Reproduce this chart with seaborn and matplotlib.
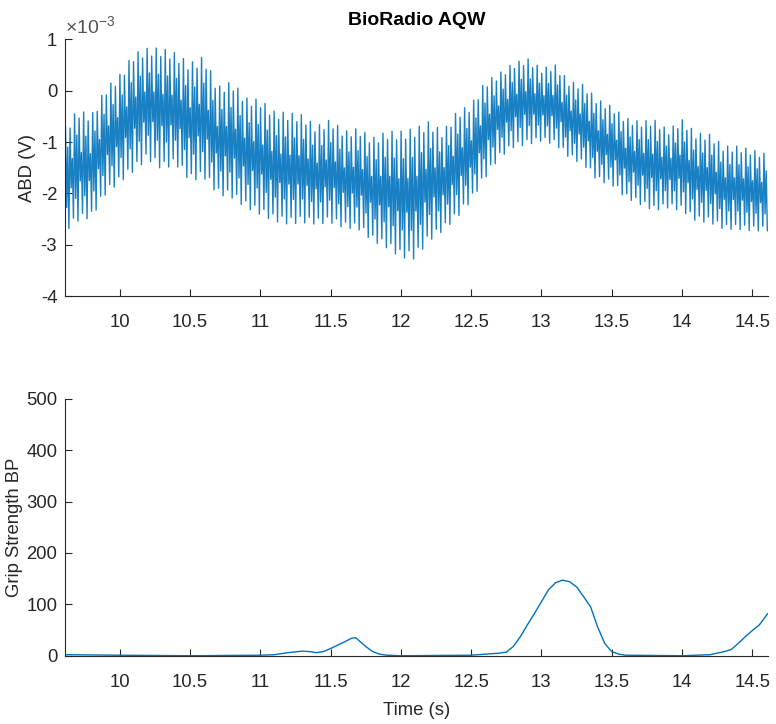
import numpy as np
import pandas as pd
import matplotlib
matplotlib.use("Agg")
import matplotlib.pyplot as plt
import seaborn as sns

# ABD signal envelope (units of 1e-3 V), every 0.1 s
env_time = [9.62, 9.7, 9.8, 9.9, 10.0, 10.1, 10.2, 10.3, 10.4, 10.5,
            10.6, 10.7, 10.8, 10.9, 11.0, 11.1, 11.2, 11.3, 11.4, 11.5,
            11.6, 11.7, 11.8, 11.9, 12.0, 12.1, 12.2, 12.3, 12.4, 12.5,
            12.6, 12.7, 12.8, 12.9, 13.0, 13.1, 13.2, 13.3, 13.4, 13.5,
            13.6, 13.7, 13.8, 13.9, 14.0, 14.1, 14.2, 14.3, 14.4, 14.5, 14.61]
abd_upper = [-0.69, -0.37, -0.47, 0.05, 0.31, 0.73, 0.83, 0.83, 0.73, 0.54,
             0.67, 0.08, 0.18, -0.14, -0.17, -0.40, -0.43, -0.47, -0.69, -0.56,
             -0.79, -0.73, -0.92, -0.79, -0.79, -0.73, -0.60, -0.79, -0.40, -0.27,
             0.18, 0.34, 0.54, 0.63, 0.44, 0.50, 0.18, 0.12, -0.17, -0.30,
             -0.53, -0.60, -0.56, -0.76, -0.56, -0.82, -0.85, -1.08, -1.08, -1.15, -1.24]
abd_lower = [-2.73, -2.54, -2.47, -2.02, -1.79, -1.57, -1.34, -1.53, -1.44, -1.76,
             -1.70, -2.02, -2.09, -2.28, -2.41, -2.54, -2.60, -2.57, -2.60, -2.57,
             -2.67, -2.70, -2.93, -3.06, -3.25, -3.28, -2.93, -2.73, -2.47, -2.15,
             -1.70, -1.31, -1.11, -1.05, -0.98, -1.05, -1.31, -1.44, -1.76, -1.83,
             -2.09, -2.21, -2.34, -2.28, -2.34, -2.54, -2.57, -2.70, -2.70, -2.73, -2.73]
abd_freq = 31  # oscillations per second, counted on the picture
# two oscillations as fractions of the envelope span
cycle_shape = [1.0, 0.22, 0.78, 0.0, 0.93, 0.36, 0.62, 0.06]

# Grip strength trace
grip_time = [9.615, 10.0, 10.5, 11.0, 11.1, 11.2, 11.3, 11.35, 11.4, 11.45,
             11.5, 11.6, 11.65, 11.68, 11.7, 11.75, 11.8, 11.85, 11.9, 12.0,
             12.5, 12.6, 12.7, 12.75, 12.8, 12.85, 12.9, 12.95, 13.0, 13.05,
             13.1, 13.15, 13.2, 13.25, 13.3, 13.35, 13.4, 13.45, 13.5, 13.55,
             13.6, 14.0, 14.2, 14.3, 14.35, 14.4, 14.45, 14.5, 14.55, 14.61]
grip_vals = [2, 1, 0, 1, 2, 6, 9, 8, 6, 8,
             14, 27, 34, 35, 30, 18, 8, 3, 1, 0,
             1, 3, 5, 7, 18, 37, 60, 82, 105, 128,
             142, 147, 144, 134, 115, 95, 56, 24, 8, 3,
             1, 0, 2, 8, 12, 24, 37, 49, 60, 82]

xticks = [10, 10.5, 11, 11.5, 12, 12.5, 13, 13.5, 14, 14.5]
xlabels = ["10", "10.5", "11", "11.5", "12", "12.5", "13", "13.5", "14", "14.5"]

sns.set_theme(style="white")
plt.rcParams['font.family'] = ['Liberation Sans', 'DejaVu Sans']
plt.rcParams['axes.unicode_minus'] = False

blue = "#0072BD"
dark = "#262626"

# build the oscillating trace inside the envelopes
pts_per_cycle = len(cycle_shape) / 2
t_osc = np.arange(9.615, 14.612, 1 / (pts_per_cycle * abd_freq))
up = np.interp(t_osc, env_time, abd_upper)
lo = np.interp(t_osc, env_time, abd_lower)
frac = np.array(cycle_shape)[np.arange(len(t_osc)) % len(cycle_shape)]
abd = pd.DataFrame({"t": t_osc, "v": lo + frac * (up - lo)})
grip = pd.DataFrame({"t": grip_time, "v": grip_vals})

fig = plt.figure(figsize=(7.76, 7.24), dpi=100)
ax1 = fig.add_axes([0.0844, 0.591, 0.905, 0.3546])
ax2 = fig.add_axes([0.0844, 0.0943, 0.905, 0.355])

sns.lineplot(data=abd, x="t", y="v", ax=ax1, color=blue, linewidth=1.0,
             alpha=0.9, sort=False, estimator=None)
sns.lineplot(data=grip, x="t", y="v", ax=ax2, color=blue, linewidth=1.0,
             sort=False, estimator=None)

ax1.set_ylim(-4, 1)
ax1.set_yticks([-4, -3, -2, -1, 0, 1])
ax2.set_ylim(0, 500)
ax2.set_yticks([0, 100, 200, 300, 400, 500])

for ax in (ax1, ax2):
    ax.set_xlim(9.615, 14.61)
    ax.set_xticks(xticks)
    ax.set_xticklabels(xlabels)
    sns.despine(ax=ax)
    for s in ("left", "bottom"):
        ax.spines[s].set_color(dark)
        ax.spines[s].set_linewidth(0.8)
    ax.tick_params(direction="in", length=5, width=0.8, color=dark,
                   labelcolor=dark, labelsize=13.3, bottom=True, left=True)
    ax.tick_params(axis="x", pad=13)
    ax.tick_params(axis="y", pad=6)
    ax.set_xlabel("")

ax1.set_ylabel("ABD (V)", fontsize=13.3, color=dark, labelpad=3)
ax2.set_ylabel("Grip Strength BP", fontsize=13.3, color=dark, labelpad=2)
ax2.set_xlabel("Time (s)", fontsize=13.3, color=dark, labelpad=8)
ax1.set_title("BioRadio AQW", fontsize=14, fontweight="bold", color="black", pad=10)
ax1.text(0.0, 1.008, r"$\mathregular{\times10^{-3}}$", transform=ax1.transAxes,
         fontsize=14, color="#555555", ha="left", va="bottom")

fig.savefig("out.png", dpi=100)
